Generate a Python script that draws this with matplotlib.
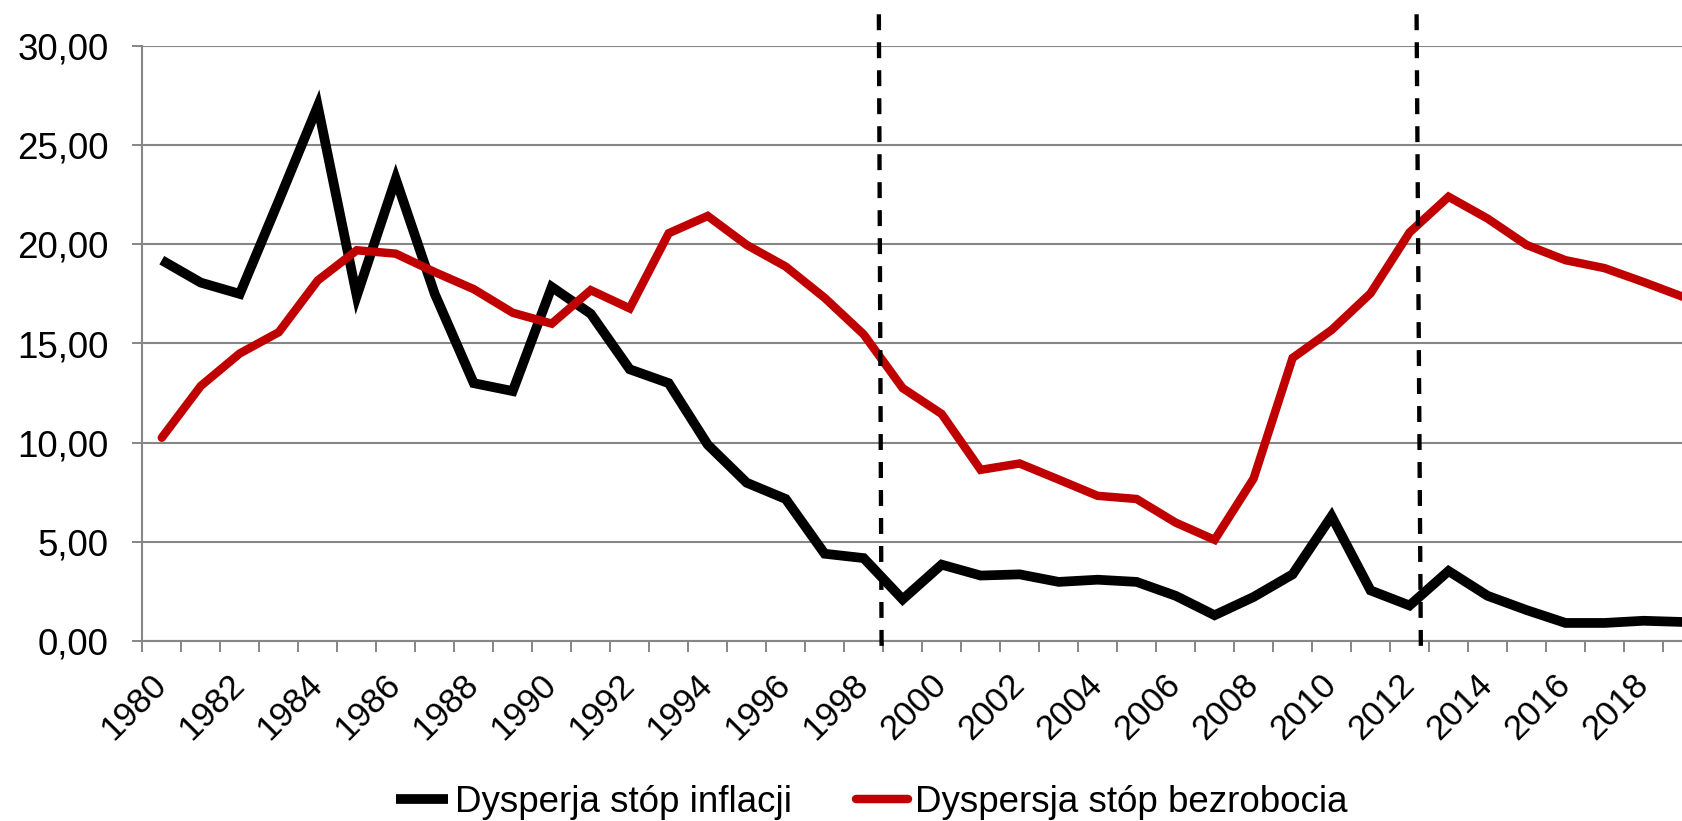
import matplotlib
matplotlib.use("Agg")
import matplotlib.pyplot as plt
from matplotlib.ticker import FixedLocator, FuncFormatter
import numpy as np

years = list(range(1980, 2020))
inflation = [19.2, 18.07, 17.5, 22.2, 26.97, 17.4, 23.3, 17.5, 13.0, 12.6,
             17.85, 16.5, 13.7, 13.0, 9.9, 7.98, 7.16, 4.4, 4.18, 2.1,
             3.85, 3.3, 3.36, 2.98, 3.09, 2.98, 2.28, 1.3, 2.22, 3.36,
             6.29, 2.55, 1.79, 3.53, 2.28, 1.56, 0.91, 0.91, 1.02, 0.96]
unemployment = [10.25, 12.86, 14.5, 15.57, 18.18, 19.7, 19.53, 18.6, 17.74, 16.55,
                16.0, 17.69, 16.77, 20.56, 21.43, 19.97, 18.88, 17.3, 15.46, 12.75,
                11.45, 8.63, 8.95, 8.14, 7.32, 7.16, 5.97, 5.1, 8.19, 14.27,
                15.68, 17.53, 20.6, 22.4, 21.3, 19.97, 19.2, 18.8, 18.1, 17.36]
series_names = ["Dysperja stóp inflacji", "Dyspersja stóp bezrobocia"]
# break markers (category index, slightly slanted: top, bottom)
breaks = [(18.39, 18.46), (32.18, 32.29)]

plt.rcParams['font.family'] = ['Liberation Sans', 'DejaVu Sans']
FS = 26.5
FS_X = 25
GRAY = '#868686'

fig = plt.figure(figsize=(16.82, 8.21), dpi=100)
ax = fig.add_axes([142.3/1682, 1-641/821, (1702-142.3)/1682, (641-46)/821])

x = np.arange(len(years))
ax.plot(x, inflation, color='black', lw=7.0, solid_capstyle='butt',
        solid_joinstyle='miter', label=series_names[0], zorder=3)
ax.plot(x, unemployment, color='#C00000', lw=6.1, solid_capstyle='round',
        solid_joinstyle='miter', label=series_names[1], zorder=3)

ax.set_xlim(-0.5, len(years) - 0.5)
ax.set_ylim(0, 30)

# y axis
ax.set_yticks(np.arange(0, 31, 5))
ax.yaxis.set_major_formatter(FuncFormatter(lambda v, p: f"{v:.2f}".replace('.', ',')))
ax.tick_params(axis='y', length=7.2, width=1.4, color=GRAY, pad=17, labelsize=FS)
ax.grid(axis='y', color=GRAY, lw=1.5)
ax.set_axisbelow(True)

# x axis: labels at every other category, ticks at boundaries
ax.xaxis.set_major_locator(FixedLocator(x[::2]))
ax.set_xticklabels([str(y) for y in years[::2]], rotation=45, ha='right',
                   va='center', rotation_mode='anchor', fontsize=FS_X)
ax.xaxis.set_minor_locator(FixedLocator(np.arange(-0.5, len(years), 1.0)))
ax.tick_params(axis='x', which='major', length=0, pad=28)
ax.tick_params(axis='x', which='minor', length=8, width=1.4, color=GRAY)

for s in ['top', 'right']:
    ax.spines[s].set_visible(False)
for s in ['left', 'bottom']:
    ax.spines[s].set_color(GRAY)
    ax.spines[s].set_linewidth(1.5)

# dashed break lines
for xt, xb in breaks:
    ax.plot([xt, xb], [31.6, -0.35], color='black', lw=3.1, dashes=(3.7, 2.8),
            clip_on=False, zorder=4)

fig.legend(loc='center', bbox_to_anchor=(872/1682, 1-802/821), ncol=2,
           frameon=False, fontsize=FS, handlelength=1.4, handletextpad=0.2,
           columnspacing=1.75, borderpad=0, borderaxespad=0)

fig.savefig('out.png', dpi=100)
